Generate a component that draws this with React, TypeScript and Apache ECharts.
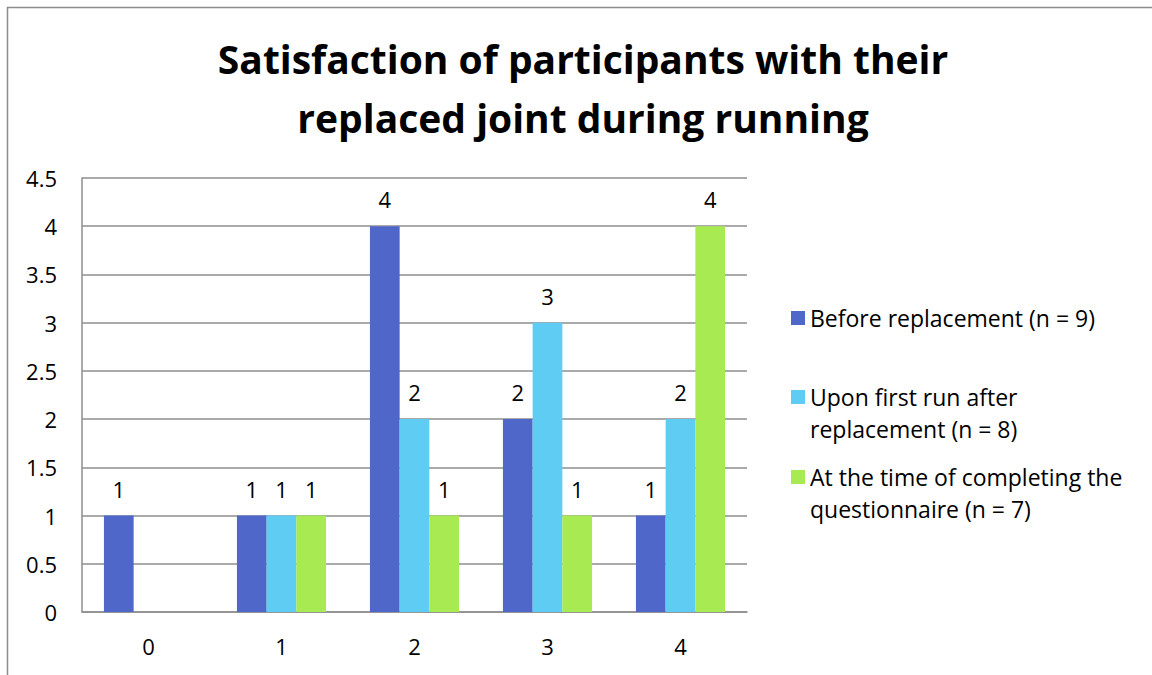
import React, { useEffect, useRef } from "react";
import * as echarts from "echarts";

const titleText = "Satisfaction of participants with their\nreplaced joint during running";
const categories = ["0", "1", "2", "3", "4"];
const seriesNames = [
  "Before replacement (n = 9)",
  "Upon first run after\nreplacement (n = 8)",
  "At the time of completing the\nquestionnaire (n = 7)",
];
const beforeValues = [1, 1, 4, 2, 1];
const firstRunValues = [null, 1, 2, 3, 2];
const completingValues = [null, 1, 1, 1, 4];
const colors = ["#4E67C8", "#5ECCF3", "#A7EA52"];

const FONT = "'Open Sans', Lato, sans-serif";

export default function App() {
  const ref = useRef<HTMLDivElement>(null);
  useEffect(() => {
    if (!ref.current) return;
    const chart = echarts.init(ref.current, undefined, { renderer: "svg" });
    const values = [beforeValues, firstRunValues, completingValues];
    const legendTops = [302, 381, 461];
    const squareIcon = "path://M0,0L14,0L14,14L0,14Z";
    const tallIcon = "path://M0,0L14,0L14,14L0,14Z M0,46L0.05,46L0.05,46.05L0,46.05Z";
    const legendIcons = [squareIcon, tallIcon, tallIcon];
    const legendHeights = [14, 46, 46];
    chart.setOption({
      animation: false,
      backgroundColor: "#ffffff",
      textStyle: { fontFamily: FONT },
      title: {
        text: titleText,
        left: 583,
        top: 29,
        textAlign: "center",
        padding: 0,
        textStyle: {
          fontFamily: FONT,
          fontSize: 39,
          fontWeight: "bold",
          color: "#000000",
          lineHeight: 59,
        },
      },
      legend: seriesNames.map((n, i) => ({
        data: [{ name: n, icon: legendIcons[i] }],
        orient: "vertical",
        left: 791,
        top: legendTops[i],
        padding: 0,
        itemWidth: 14,
        itemHeight: legendHeights[i],
        itemGap: 8,
        selectedMode: false,
        textStyle: {
          fontFamily: FONT,
          fontSize: 23,
          lineHeight: 32,
          color: "#000000",
        },
      })),
      grid: { left: 82, right: 405, top: 178, bottom: 63, containLabel: false },
      xAxis: {
        type: "category",
        data: categories,
        axisTick: { show: false },
        axisLine: { show: true, lineStyle: { color: "#8e8e8e", width: 1.5 } },
        axisLabel: { fontFamily: FONT, fontSize: 22, color: "#000000", margin: 23 },
      },
      yAxis: {
        type: "value",
        min: 0,
        max: 4.5,
        interval: 0.5,
        axisLine: { show: true, lineStyle: { color: "#8e8e8e", width: 1.5 } },
        axisTick: { show: false },
        splitLine: { show: true, lineStyle: { color: "#8e8e8e", width: 1.5 } },
        axisLabel: { fontFamily: FONT, fontSize: 22, color: "#000000", margin: 25 },
      },
      series: seriesNames.map((n, i) => ({
        name: n,
        type: "bar",
        data: values[i],
        barGap: "0%",
        barCategoryGap: "33%",
        itemStyle: { color: colors[i] },
        label: {
          show: true,
          position: "top",
          distance: 16,
          fontFamily: FONT,
          fontSize: 22,
          color: "#000000",
        },
      })),
      graphic: [
        {
          type: "rect",
          shape: { x: 7.5, y: 7.5, width: 1200, height: 700 },
          style: { fill: "none", stroke: "#8c8c8c", lineWidth: 1.5 },
          silent: true,
        },
      ],
    });
    return () => chart.dispose();
  }, []);
  return (
    <div
      ref={ref}
      style={{ position: "fixed", left: 0, top: 0, width: 1152, height: 675 }}
    />
  );
}
